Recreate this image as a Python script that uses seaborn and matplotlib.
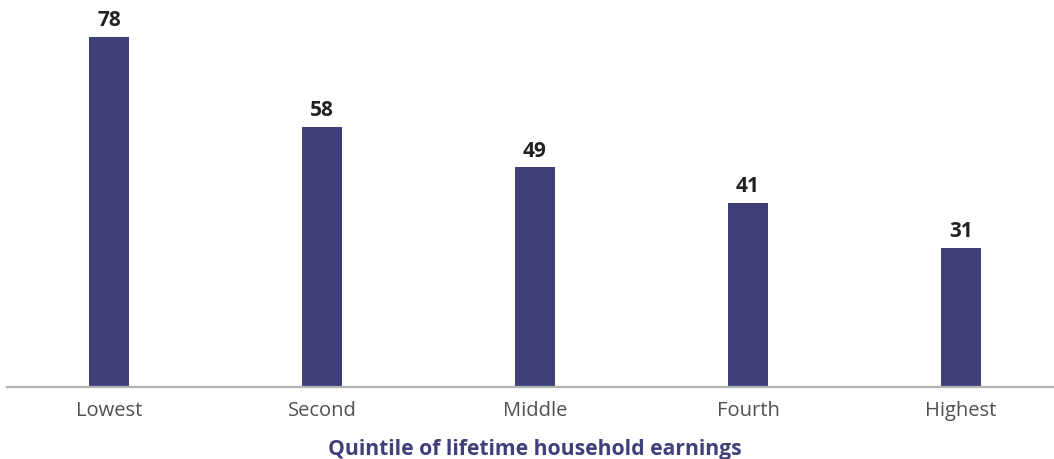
import matplotlib
matplotlib.use("Agg")
import matplotlib.pyplot as plt
import seaborn as sns
import pandas as pd

categories = ["Lowest", "Second", "Middle", "Fourth", "Highest"]
values = [78, 58, 49, 41, 31]
x_title = "Quintile of lifetime household earnings"

sns.set_theme(style="white")
plt.rcParams["font.family"] = ["Lato", "DejaVu Sans"]

W, H = 1054, 459
fig = plt.figure(figsize=(W / 100, H / 100), dpi=100)
ax = fig.add_axes([7 / W, (H - 387) / H, (W - 7) / W, 387 / H])

df = pd.DataFrame({"cat": categories, "val": values})
sns.barplot(data=df, x="cat", y="val", color="#3F4079", width=0.188,
            saturation=1, ax=ax, edgecolor="none")

ax.set_xlim(-0.479, 4.437)
ax.set_ylim(0, 86.24)
for c in ax.containers:
    ax.bar_label(c, labels=[str(v) for v in values], padding=4,
                 fontsize=15, fontweight="bold", color="#222222",
                 family=["Open Sans", "DejaVu Sans"])

sns.despine(ax=ax, left=True, top=True, right=True)
ax.spines["bottom"].set_color("#b3b3b3")
ax.spines["bottom"].set_linewidth(1.6)
ax.set_yticks([])
ax.set_ylabel("")
ax.set_xlabel("")
ax.tick_params(axis="x", length=0, pad=10, labelsize=14.5, labelcolor="#505050")
for t in ax.get_xticklabels():
    t.set_fontfamily(["Open Sans", "DejaVu Sans"])
    t.set_fontweight("normal")

fig.text(535 / W, 1 - 450 / H, x_title, ha="center", va="center",
         fontsize=15.2, fontweight="bold", color="#3F4079",
         family=["Open Sans", "DejaVu Sans"])

fig.savefig("out.png", dpi=100)
